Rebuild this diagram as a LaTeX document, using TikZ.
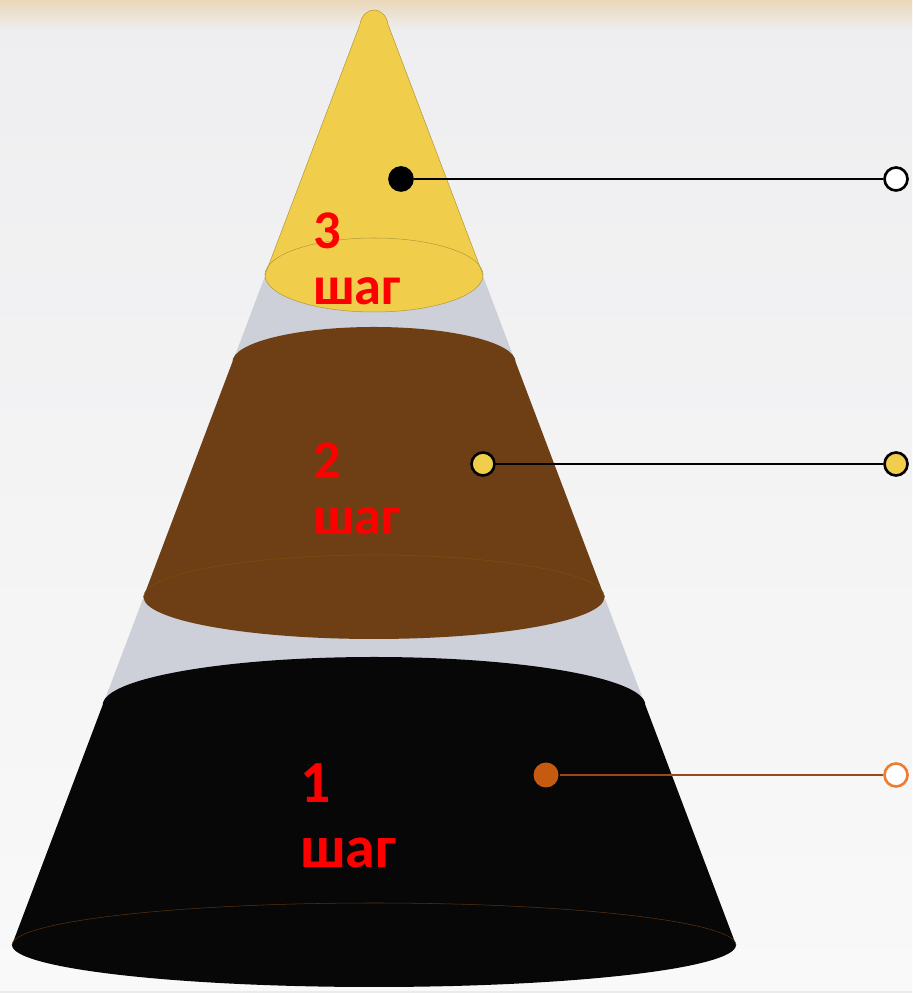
\documentclass[tikz,border=0pt]{standalone}
\usepackage{fontspec}
\setmainfont{Carlito}
\usetikzlibrary{positioning}
\definecolor{bgTop}{HTML}{EEEEF0}
\definecolor{bgBot}{HTML}{F9F9F9}
\definecolor{bgBand}{HTML}{EAD7B8}
\definecolor{coneGray}{HTML}{CDD0D8}
\definecolor{stepYellow}{HTML}{F0CE4C}
\definecolor{stepBrown}{HTML}{6E3F14}
\definecolor{stepBlack}{HTML}{070707}
\definecolor{stepRed}{HTML}{FF0000}
\definecolor{dotOrange}{HTML}{C55A11}
\definecolor{leadBrown}{HTML}{9A4A14}
\definecolor{ringOrange}{HTML}{ED7D31}
\begin{document}
\begin{tikzpicture}[x=0.02cm,y=0.02cm,
  dot/.style={circle,inner sep=0pt,minimum size=0.46cm,line width=1.5pt},
  lead/.style={line width=1.5pt},
  lbl/.style={anchor=north west,inner sep=0pt,align=left,text=stepRed,
    font=\bfseries\fontsize{31}{32.4}\selectfont}]
\useasboundingbox (0,0) rectangle (912,993);
% background
\shade[top color=bgTop,bottom color=bgBot] (0,0) rectangle (912,993);
\shade[top color=bgBand,bottom color=bgTop] (0,963) rectangle (912,993);
\fill[black!8] (0,0) rectangle (912,2);
% whole cone behind the steps
\fill[coneGray] (360,968) -- (12,48) -- (736,48) -- (388,968) -- cycle;
% step 3
\filldraw[fill=stepYellow,draw=stepYellow!75!black,line width=0.3pt]
  (359.8,968) .. controls (363,988) and (385,988) .. (388.2,968)
  -- (483,718) arc[start angle=0,end angle=-180,x radius=109,y radius=37]
  -- cycle;
\draw[stepYellow!75!black,line width=0.3pt]
  (483,718) arc[start angle=0,end angle=180,x radius=109,y radius=37];
% step 2
\fill[stepBrown] (232.4,631)
  arc[start angle=180,end angle=0,x radius=141.6,y radius=35]
  -- (604.5,396) arc[start angle=0,end angle=-180,x radius=230.5,y radius=42]
  -- cycle;
\draw[stepBrown!70!olive,line width=0.3pt]
  (604.5,396) arc[start angle=0,end angle=180,x radius=230.5,y radius=42];
% step 1
\fill[stepBlack] (102.7,288)
  arc[start angle=180,end angle=0,x radius=271.3,y radius=48]
  -- (736,48) arc[start angle=0,end angle=-180,x radius=362,y radius=42]
  -- cycle;
\draw[stepBrown!80!black,line width=0.3pt]
  (736,48) arc[start angle=0,end angle=180,x radius=362,y radius=42];
% labels
\node[lbl] (t3) at (313,781) {3\\шаг};
\node[lbl] (t2) at (313,551) {2\\шаг};
\node[lbl,font=\bfseries\fontsize{34}{37}\selectfont] (t1) at (300,230) {1\\шаг};
% markers
\node[dot,fill=black,draw=black] (d3) at (401,814) {};
\node[dot,fill=white,draw=black] (e3) at (896,814) {};
\node[dot,fill=stepYellow,draw=black] (d2) at (483,529) {};
\node[dot,fill=stepYellow,draw=black] (e2) at (896,529) {};
\node[dot,fill=dotOrange,minimum size=0.5cm] (d1) at (546,218) {};
\node[dot,fill=white,draw=ringOrange] (e1) at (896,218) {};
\draw[lead] (d3) -- (e3);
\draw[lead] (d2) -- (e2);
\draw[lead,leadBrown] (d1) -- (e1);
\end{tikzpicture}
\end{document}
